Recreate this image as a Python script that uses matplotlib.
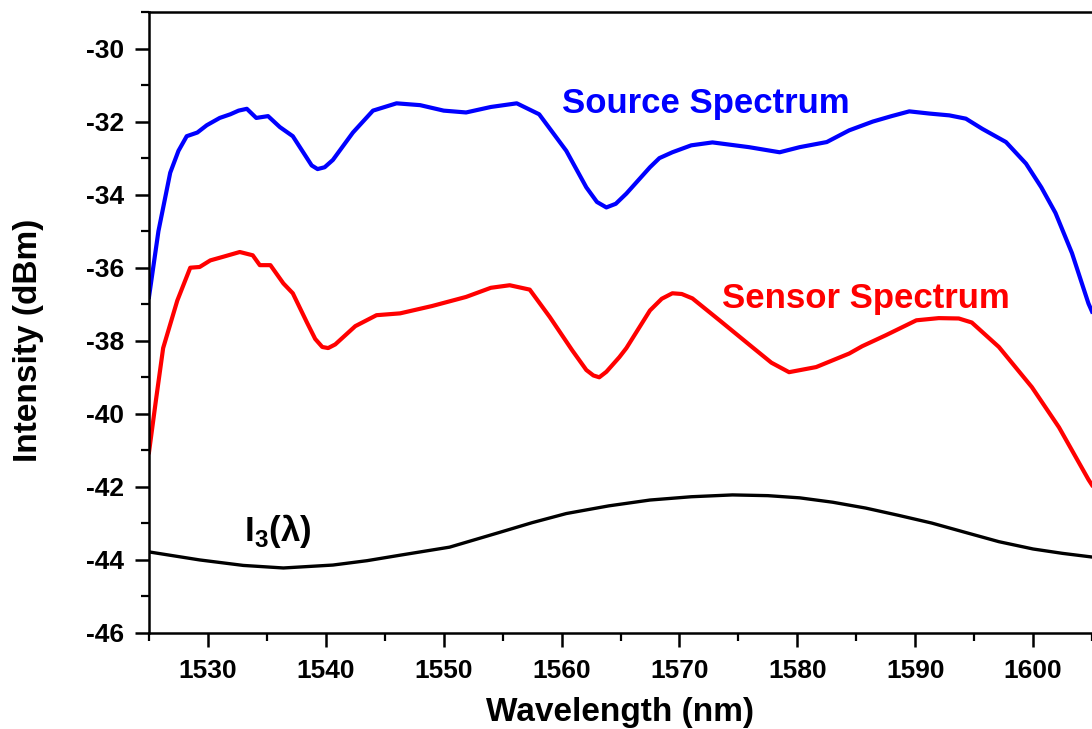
import matplotlib
matplotlib.use("Agg")
import matplotlib.pyplot as plt
from matplotlib.ticker import MultipleLocator

plt.rcParams['font.family'] = ['Liberation Sans', 'DejaVu Sans']
plt.rcParams['font.weight'] = 'bold'
plt.rcParams['axes.unicode_minus'] = False
plt.rcParams['mathtext.fontset'] = 'custom'
plt.rcParams['mathtext.bf'] = 'Liberation Sans:bold'
plt.rcParams['mathtext.rm'] = 'Liberation Sans:bold'

# values
source_x = [1525.0, 1525.8, 1526.8, 1527.5, 1528.2, 1529.1, 1529.9, 1531.0, 1531.9, 1532.6,
            1533.3, 1534.1, 1535.1, 1536.1, 1537.2, 1538.4, 1538.8, 1539.3, 1539.9, 1540.6,
            1542.3, 1544.0, 1546.0, 1548.0, 1550.0, 1551.9, 1554.0, 1556.2, 1558.1, 1560.4,
            1562.1, 1563.0, 1563.8, 1564.6, 1565.5, 1567.5, 1568.3, 1569.4, 1571.0, 1572.8,
            1575.9, 1578.5, 1580.2, 1582.5, 1584.4, 1586.4, 1588.0, 1589.5, 1591.2, 1592.9,
            1594.3, 1595.7, 1597.7, 1599.4, 1600.7, 1601.9, 1603.3, 1604.7, 1605.0]
source_y = [-36.8, -35.0, -33.4, -32.8, -32.4, -32.3, -32.1, -31.9, -31.8, -31.7,
            -31.65, -31.9, -31.85, -32.15, -32.4, -33.0, -33.2, -33.3, -33.25, -33.05,
            -32.3, -31.7, -31.5, -31.55, -31.7, -31.75, -31.6, -31.5, -31.8, -32.8,
            -33.8, -34.2, -34.35, -34.25, -33.97, -33.25, -33.0, -32.84, -32.65, -32.57,
            -32.7, -32.84, -32.7, -32.56, -32.24, -32.0, -31.85, -31.72, -31.78, -31.83,
            -31.92, -32.2, -32.56, -33.15, -33.8, -34.5, -35.6, -36.98, -37.2]

sensor_x = [1525.0, 1525.6, 1526.2, 1527.4, 1528.5, 1529.3, 1530.2, 1531.3, 1532.7, 1533.8,
            1534.4, 1535.3, 1536.4, 1537.2, 1538.4, 1539.1, 1539.7, 1540.2, 1540.8, 1542.5,
            1544.3, 1546.3, 1549.0, 1551.9, 1554.0, 1555.6, 1557.3, 1559.0, 1560.9, 1562.1,
            1562.7, 1563.2, 1563.8, 1564.9, 1565.5, 1567.5, 1568.5, 1569.4, 1570.2, 1571.1,
            1573.4, 1576.2, 1577.8, 1579.3, 1581.6, 1584.4, 1585.5, 1587.5, 1590.1, 1592.0,
            1593.7, 1594.8, 1597.1, 1599.9, 1602.2, 1604.7, 1605.0]
sensor_y = [-41.05, -39.6, -38.2, -36.9, -36.0, -35.98, -35.8, -35.7, -35.57, -35.66,
            -35.93, -35.93, -36.43, -36.7, -37.5, -37.95, -38.17, -38.2, -38.1, -37.6,
            -37.3, -37.25, -37.05, -36.8, -36.55, -36.48, -36.6, -37.35, -38.26, -38.8,
            -38.95, -39.0, -38.85, -38.45, -38.2, -37.17, -36.85, -36.7, -36.72, -36.84,
            -37.44, -38.18, -38.6, -38.86, -38.72, -38.35, -38.15, -37.85, -37.44, -37.38,
            -37.39, -37.5, -38.17, -39.27, -40.37, -41.8, -41.95]

i3_x = [1525.0, 1529.3, 1533.0, 1536.4, 1540.6, 1543.5, 1546.3, 1550.5, 1554.7, 1557.5,
        1560.4, 1564.0, 1567.5, 1571.0, 1574.5, 1577.5, 1580.2, 1583.0, 1585.8, 1588.6,
        1591.4, 1594.3, 1597.1, 1600.0, 1602.5, 1605.0]
i3_y = [-43.78, -44.0, -44.15, -44.22, -44.14, -44.02, -43.87, -43.65, -43.25, -42.98,
        -42.73, -42.52, -42.36, -42.27, -42.22, -42.24, -42.3, -42.42, -42.58, -42.78,
        -42.99, -43.25, -43.5, -43.7, -43.82, -43.92]

fig = plt.figure(figsize=(10.92, 7.29), dpi=100)
ax = fig.add_axes([149 / 1092, 96 / 729, 943 / 1092, 621 / 729])

ax.plot(source_x, source_y, color='#0000ff', lw=3.0, solid_joinstyle='round')
ax.plot(sensor_x, sensor_y, color='#ff0000', lw=3.0, solid_joinstyle='round')
ax.plot(i3_x, i3_y, color='black', lw=2.4, solid_joinstyle='round')

ax.text(1560.0, -31.5, "Source Spectrum", color='#0000ff', fontsize=25,
        fontweight='bold', va='center', ha='left')
ax.text(1573.6, -36.85, "Sensor Spectrum", color='#ff0000', fontsize=25,
        fontweight='bold', va='center', ha='left')
ax.text(1533.1, -43.2, r"$\mathbf{I}_{\mathbf{3}}$(λ)", color='black', fontsize=25,
        fontweight='bold', va='center', ha='left')

ax.set_xlim(1525, 1605)
ax.set_ylim(-46, -29)
ax.xaxis.set_major_locator(MultipleLocator(10))
ax.xaxis.set_minor_locator(MultipleLocator(5))
ax.yaxis.set_major_locator(MultipleLocator(2))
ax.yaxis.set_minor_locator(MultipleLocator(1))

ax.tick_params(which='major', direction='out', length=10, width=1.8, labelsize=19)
ax.tick_params(axis='y', which='major', pad=8)
ax.tick_params(axis='x', which='major', pad=9)
ax.tick_params(which='minor', direction='out', length=6, width=1.6)
for lab in ax.get_xticklabels() + ax.get_yticklabels():
    lab.set_fontweight('bold')

for side in ['left', 'bottom', 'top']:
    ax.spines[side].set_linewidth(1.8)
ax.spines['right'].set_visible(False)

ax.set_xlabel("Wavelength (nm)", fontsize=24, fontweight='bold')
ax.set_ylabel("Intensity (dBm)", fontsize=24, fontweight='bold')
ax.xaxis.set_label_coords(0.5, -0.103)
ax.yaxis.set_label_coords(-0.111, 0.472)

fig.savefig("out.png", dpi=100)
